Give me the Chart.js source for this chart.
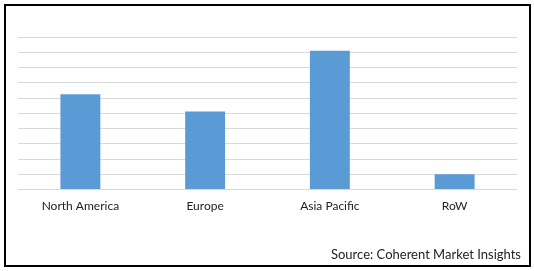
<!DOCTYPE html>
<html>
<head>
<meta charset="utf-8">
<script src="https://cdn.jsdelivr.net/npm/chart.js@4"></script>
<style>
  html, body { margin: 0; padding: 0; background: #fff; }
  #wrap { position: relative; width: 534px; height: 271px; }
  #marco {
    position: absolute; left: 4px; top: 4px; width: 523px; height: 259px;
    border: 2px solid #000; pointer-events: none;
  }
  #fuente {
    position: absolute; right: 13px; top: 246px;
    font-family: Lato, "Open Sans", sans-serif; font-size: 13px; color: #222;
  }
</style>
</head>
<body>
<div id="wrap">
  <canvas id="regionChart" width="534" height="271"></canvas>
  <div id="marco"></div>
  <div id="fuente">Source: Coherent Market Insights</div>
</div>
<script>
// Datos (sin etiquetas de eje visibles)
const regiones = ['North America', 'Europe', 'Asia Pacific', 'RoW'];
const valores = [6.25, 5.12, 9.1, 1.0];
const ejeMin = 0;
const ejeMax = 10;
const ejePaso = 1;

// Crear el gráfico de barras
const ctx = document.getElementById('regionChart').getContext('2d');
new Chart(ctx, {
    type: 'bar',
    data: {
        labels: regiones,
        datasets: [{
            data: valores,
            backgroundColor: '#5B9BD5',
            borderWidth: 0,
            categoryPercentage: 1,
            barPercentage: 0.32
        }]
    },
    options: {
        responsive: false,
        animation: false,
        layout: {
            padding: { left: 18, right: 17, top: 37, bottom: 57 }
        },
        plugins: {
            legend: { display: false },
            tooltip: { enabled: false }
        },
        scales: {
            x: {
                grid: { display: false },
                border: { display: false },
                ticks: {
                    color: '#222',
                    padding: 1,
                    font: { family: 'Lato', size: 12 }
                }
            },
            y: {
                min: ejeMin,
                max: ejeMax,
                ticks: { display: false, stepSize: ejePaso },
                grid: { color: '#D9D9D9', drawTicks: false },
                border: { display: false }
            }
        }
    }
});
</script>
</body>
</html>
